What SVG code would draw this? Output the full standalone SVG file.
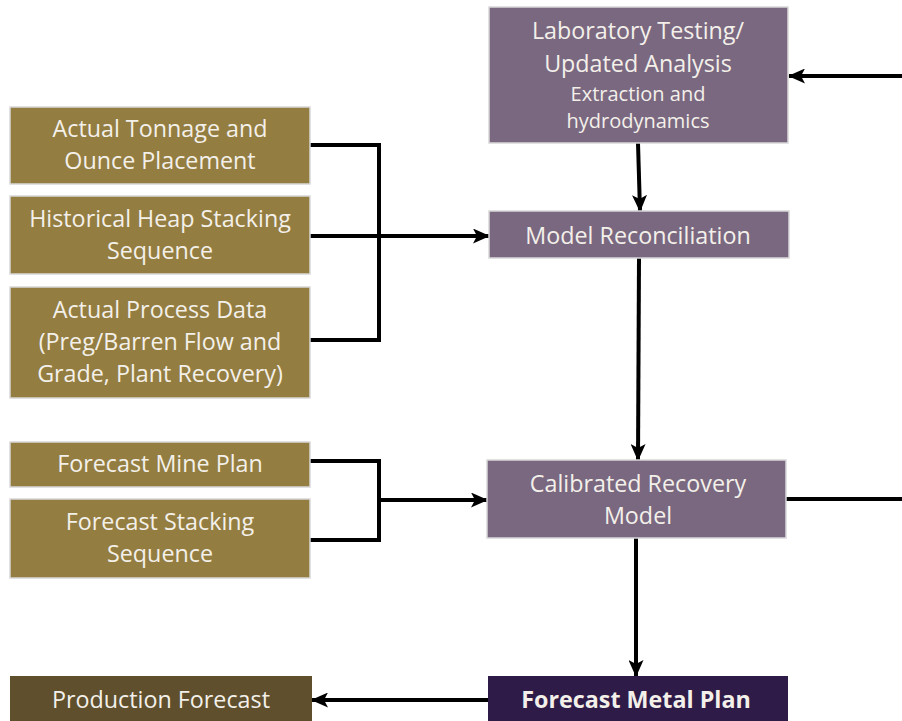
<svg xmlns="http://www.w3.org/2000/svg" width="902" height="721" viewBox="0 0 902 721">
<defs>
<marker id="ah" markerWidth="17" markerHeight="15" refX="16" refY="7.5" orient="auto" markerUnits="userSpaceOnUse"><path d="M0,0 L17,7.5 L0,15 L4,7.5 Z" fill="#000"/></marker>
</defs>
<style>
.g{fill:#937d40;stroke:#d8d8d8;stroke-width:1.5}
.p{fill:#7a6880;stroke:#d8d8d8;stroke-width:1.5}
.t{font-family:"Open Sans",Lato,sans-serif;font-size:23.3px;fill:#f3f0ea;text-anchor:middle}
.s{font-size:20px}
.c{fill:none;stroke:#000;stroke-width:4}
</style>
<rect width="902" height="721" fill="#fff"/>
<g id="connectors">
<polyline class="c" points="310,145 379,145 379,340 310,340"/>
<line class="c" x1="310" y1="236" x2="489" y2="236" marker-end="url(#ah)"/>
<polyline class="c" points="310,461 379,461 379,540 310,540"/>
<line class="c" x1="379" y1="500" x2="487" y2="500" marker-end="url(#ah)"/>
<line class="c" x1="638" y1="143" x2="640" y2="211" marker-end="url(#ah)"/>
<line class="c" x1="639" y1="258" x2="638" y2="460" marker-end="url(#ah)"/>
<line class="c" x1="636" y1="538" x2="636" y2="676" marker-end="url(#ah)"/>
<line class="c" x1="786" y1="499" x2="902" y2="499"/>
<line class="c" x1="902" y1="76" x2="789" y2="76" marker-end="url(#ah)"/>
<line class="c" x1="488" y1="700" x2="312" y2="700" marker-end="url(#ah)"/>
</g>
<g id="n1"><rect class="g" x="10" y="107" width="300" height="77"/><text class="t" x="160" y="137">Actual Tonnage and</text><text class="t" x="160" y="169">Ounce Placement</text></g>
<g id="n2"><rect class="g" x="10" y="196" width="300" height="78"/><text class="t" x="160" y="227">Historical Heap Stacking</text><text class="t" x="160" y="259">Sequence</text></g>
<g id="n3"><rect class="g" x="10" y="287" width="300" height="111"/><text class="t" x="160" y="318">Actual Process Data</text><text class="t" x="160" y="350">(Preg/Barren Flow and</text><text class="t" x="160" y="382">Grade, Plant Recovery)</text></g>
<g id="n4"><rect class="g" x="10" y="442" width="300" height="45"/><text class="t" x="160" y="472">Forecast Mine Plan</text></g>
<g id="n5"><rect class="g" x="10" y="499" width="300" height="79"/><text class="t" x="160" y="530">Forecast Stacking</text><text class="t" x="160" y="562">Sequence</text></g>
<g id="n6"><rect class="p" x="489" y="7" width="299" height="136"/><text class="t" x="638" y="39">Laboratory Testing/</text><text class="t" x="638" y="72">Updated Analysis</text><text class="t s" x="638" y="101">Extraction and</text><text class="t s" x="638" y="128">hydrodynamics</text></g>
<g id="n7"><rect class="p" x="489" y="211" width="300" height="47"/><text class="t" x="638" y="244">Model Reconciliation</text></g>
<g id="n8"><rect class="p" x="487" y="460" width="299" height="78"/><text class="t" x="638" y="492">Calibrated Recovery</text><text class="t" x="638" y="524">Model</text></g>
<g id="n9"><rect x="10" y="676" width="302" height="50" fill="#5f4f2c"/><text class="t" x="161" y="708">Production Forecast</text></g>
<g id="n10"><rect x="488" y="676" width="300" height="50" fill="#2f1b48"/><text class="t" x="636" y="708" font-weight="bold" font-size="19.8px">Forecast Metal Plan</text></g>
</svg>
